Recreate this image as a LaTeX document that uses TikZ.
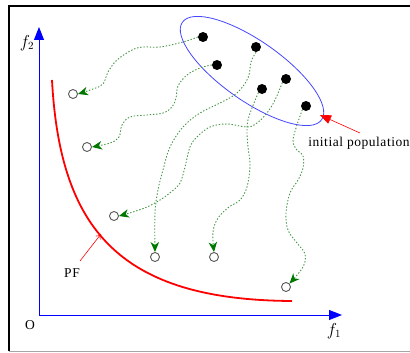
\documentclass[tikz,border=0pt]{standalone}
\usepackage{fontspec}
\setmainfont{Liberation Serif}
\newfontfamily\lsfont[LetterSpace=4]{Liberation Serif}
\usetikzlibrary{arrows.meta}
\definecolor{mvgreen}{RGB}{70,150,70}
\definecolor{tipgreen}{RGB}{0,120,0}
\definecolor{popblue}{RGB}{70,70,255}
\begin{document}
\begin{tikzpicture}[x=1pt,y=-1pt,
  dot/.style={circle,fill=black,inner sep=0pt,minimum size=10pt},
  opn/.style={circle,draw=black!65,fill=white,line width=0.9pt,inner sep=0pt,minimum size=9pt},
  mv/.style={draw=mvgreen,line width=0.9pt,dash pattern=on 1.4pt off 1.8pt,
     -{Stealth[length=10pt,width=8.5pt,inset=3pt,color=tipgreen,fill=tipgreen]}},
  axis/.style={draw=blue,line width=0.9pt,-{Triangle[length=13pt,width=10pt]}},
  lbl/.style={font=\lsfont\fontsize{13.5}{15}\selectfont,inner sep=0pt},
  mlbl/.style={font=\fontsize{16}{18}\selectfont,inner sep=0pt}]
\useasboundingbox (0,0) rectangle (410,353);
% frame
\draw[line width=2pt] (9,351) -- (9,6) -- (410,6);
\draw[line width=1.4pt,black!35] (9,351.5) -- (410,351.5);
% axes
\coordinate (orig) at (39,315);
\coordinate (ytip) at (39,27);
\coordinate (xtip) at (342,315);
\draw[axis] (orig) -- (ytip);
\draw[axis] (orig) -- (xtip);
\node[mlbl] (f2) at (27,43) {$f_2$};
\node[mlbl] (f1) at (334,331) {$f_1$};
\node[lbl] (o) at (30,325) {O};
% Pareto front
\draw[red,line width=1.8pt] (52,80) .. controls (60,230) and (120,300) .. (292,301);
\node[lbl] (pf) at (72,273) {PF};
\coordinate (pftip) at (101,234);
\draw[red,line width=0.6pt,-{To[length=5pt,width=6pt]}] (80,261) -- (pftip);
% population ellipse
\draw[popblue,line width=0.8pt,rotate around={-35:(252,71)}] (252,71) ellipse [x radius=85pt,y radius=30pt];
\node[lbl] (ip) at (359,143) {initial population};
\coordinate (popedge) at (320,115);
\draw[red,line width=0.6pt,-{Triangle[length=11pt,width=9pt]}] (360,133) -- (popedge);
% individuals
\node[dot] (d1) at (203,37) {};
\node[dot] (d2) at (256,47) {};
\node[dot] (d3) at (217,65) {};
\node[dot] (d4) at (286,79) {};
\node[dot] (d5) at (262,89) {};
\node[dot] (d6) at (306,106) {};
\node[opn] (c1) at (73,94) {};
\node[opn] (c2) at (87,147) {};
\node[opn] (c3) at (114,216) {};
\node[opn] (c4) at (155,257) {};
\node[opn] (c5) at (214,257) {};
\node[opn] (c6) at (286,287) {};
% moves
\draw[mv] plot[smooth,tension=0.6] coordinates {(d1.west) (183,42) (160,47) (143,47) (132,50) (117,60) (108,72) (103,84) (93,89) (c1.east)};
\draw[mv] plot[smooth,tension=0.6] coordinates {(d3.west) (200,68) (187,75) (178,86) (176,98) (172,107) (163,113) (147,115) (130,117) (122,125) (119,137) (110,143) (c2.east)};
\draw[mv] plot[smooth,tension=0.6] coordinates {(d2.south) (251,62) (248,78) (237,93) (220,103) (200,113) (183,127) (170,147) (163,170) (158,190) (155,213) (c4.north)};
\draw[mv] plot[smooth,tension=0.6] coordinates {(d5.south west) (252,108) (248,120) (247,132) (248,147) (250,165) (247,187) (240,200) (229,207) (218,218) (213,232) (c5.north)};
\draw[mv] plot[smooth,tension=0.6] coordinates {(d4.south west) (275,100) (267,113) (257,123) (247,127) (227,124) (210,127) (197,137) (190,147) (185,167) (180,183) (171,192) (160,200) (147,207) (133,212) (c3.east)};
\draw[mv] plot[smooth,tension=0.6] coordinates {(d6.south west) (297,125) (293,140) (296,149) (303,156) (303,168) (298,180) (290,193) (286,213) (288,230) (297,243) (305,254) (303,267) (c6.north east)};
\end{tikzpicture}
\end{document}
